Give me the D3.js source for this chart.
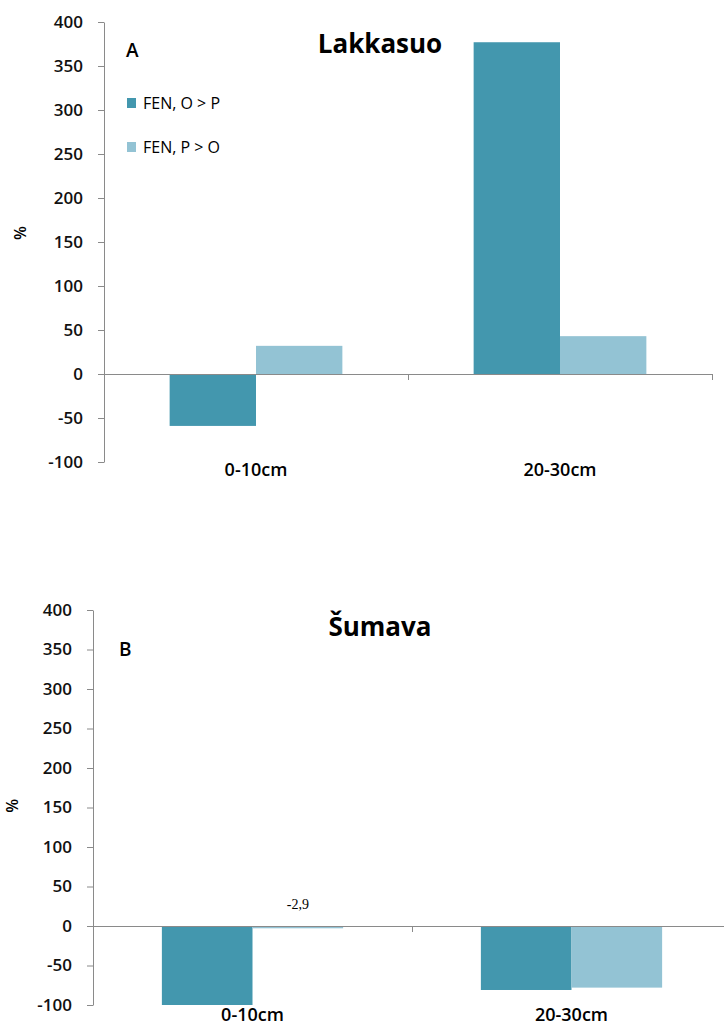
<!DOCTYPE html>
<html>
<head>
<meta charset="utf-8">
<script src="https://cdn.jsdelivr.net/npm/d3@7"></script>
<style>
  body { margin: 0; background: #fff; }
  svg { display: block; }
</style>
</head>
<body>
<div id="chart"></div>
<script>
// data
const categories = ["0-10cm", "20-30cm"];
const seriesNames = ["FEN, O > P", "FEN, P > O"];
const seriesColors = ["#4397ae", "#93c3d4"];
const yTicks = [-100, -50, 0, 50, 100, 150, 200, 250, 300, 350, 400];

const lakkasuoOP = [-59, 377];
const lakkasuoPO = [32, 43];
const sumavaOP = [-100, -81];
const sumavaPO = [-2.9, -78];

const panels = [
    { title: "Lakkasuo", letter: "A", values: [lakkasuoOP, lakkasuoPO],
      x0: 104, x1: 712, yTop: 22, yBottom: 462, titleY: 53, letterX: 126, letterY: 57,
      pctX: 20, pctAt: 160, catY: 476, legend: true },
    { title: "Šumava", letter: "B", values: [sumavaOP, sumavaPO],
      x0: 93, x1: 731, yTop: 610, yBottom: 1005, titleY: 636, letterX: 119, letterY: 656,
      pctX: 12, pctAt: 152, catY: 1021, legend: false, valueLabel: { cat: 0, series: 1, text: "-2,9" } }
];

const W = 724, H = 1025;
const axisColor = "#8a8a8a";
const font = "'Open Sans', 'Noto Sans', sans-serif";

const svg = d3.select("#chart").append("svg")
    .attr("width", W)
    .attr("height", H);

panels.forEach(p => {
    const g = svg.append("g");

    const y = d3.scaleLinear().domain([-100, 400]).range([p.yBottom, p.yTop]);
    const xCat = d3.scaleBand().domain(categories).range([p.x0, p.x1]).padding(0);
    const xSeries = d3.scaleBand().domain(seriesNames)
        .range([0, xCat.bandwidth()])
        .paddingInner(0)
        .paddingOuter(0.76);

    // bars
    seriesNames.forEach((s, si) => {
        g.selectAll(null)
            .data(categories.map((c, ci) => ({ c, v: p.values[si][ci] })))
            .join("rect")
            .attr("x", d => xCat(d.c) + xSeries(s))
            .attr("width", xSeries.bandwidth())
            .attr("y", d => y(Math.max(0, d.v)))
            .attr("height", d => Math.abs(y(d.v) - y(0)))
            .attr("fill", seriesColors[si]);
    });

    // y axis (plain hyphen for negatives, like the original)
    const yAxis = g.append("g")
        .attr("transform", `translate(${p.x0},0)`)
        .call(d3.axisLeft(y).tickValues(yTicks).tickSize(6).tickSizeOuter(0)
            .tickPadding(15).tickFormat(d => String(d)));
    yAxis.select(".domain").attr("stroke", axisColor);
    yAxis.selectAll(".tick line").attr("stroke", axisColor);
    yAxis.selectAll(".tick text")
        .attr("fill", "#111")
        .style("font-family", font)
        .style("font-size", "17px")
        .style("font-weight", "600");

    // x axis along zero, with ticks at the category boundaries
    const bounds = d3.scaleLinear().domain([0, categories.length]).range([p.x0, p.x1]);
    const xAxis = g.append("g")
        .attr("transform", `translate(0,${y(0)})`)
        .call(d3.axisBottom(bounds).tickValues([1, 2]).tickSize(6).tickSizeOuter(0).tickFormat(""));
    xAxis.select(".domain").attr("stroke", axisColor);
    xAxis.selectAll(".tick line").attr("stroke", axisColor);

    // category labels below the plot
    g.selectAll(null)
        .data(categories)
        .join("text")
        .attr("x", d => xCat(d) + xCat.bandwidth() / 2)
        .attr("y", p.catY)
        .attr("text-anchor", "middle")
        .style("font-family", font)
        .style("font-size", "18px")
        .style("font-weight", "600")
        .text(d => d);

    // title and panel letter
    g.append("text")
        .attr("x", 380)
        .attr("y", p.titleY)
        .attr("text-anchor", "middle")
        .style("font-family", font)
        .style("font-size", "26px")
        .style("font-weight", "bold")
        .text(p.title);

    g.append("text")
        .attr("x", p.letterX)
        .attr("y", p.letterY)
        .style("font-family", font)
        .style("font-size", "19px")
        .style("font-weight", "600")
        .text(p.letter);

    // y label
    g.append("text")
        .attr("transform", `translate(${p.pctX},${y(p.pctAt)}) rotate(-90)`)
        .attr("text-anchor", "middle")
        .attr("dy", "0.35em")
        .style("font-family", font)
        .style("font-size", "16px")
        .style("font-weight", "600")
        .text("%");

    if (p.legend) {
        const leg = g.append("g");
        seriesNames.forEach((s, i) => {
            const ly = 103 + i * 44;
            leg.append("rect")
                .attr("x", 127)
                .attr("y", ly - 5)
                .attr("width", 9)
                .attr("height", 10)
                .attr("fill", seriesColors[i]);
            leg.append("text")
                .attr("x", 143)
                .attr("y", ly)
                .attr("dy", "0.35em")
                .style("font-family", font)
                .style("font-size", "16px")
                .text(s);
        });
    }

    if (p.valueLabel) {
        const vl = p.valueLabel;
        const s = seriesNames[vl.series];
        g.append("text")
            .attr("x", xCat(categories[vl.cat]) + xSeries(s) + xSeries.bandwidth() / 2)
            .attr("y", y(0) - 17)
            .attr("text-anchor", "middle")
            .style("font-family", "'Liberation Serif', 'DejaVu Serif', serif")
            .style("font-size", "14px")
            .text(vl.text);
    }
});
</script>
</body>
</html>
